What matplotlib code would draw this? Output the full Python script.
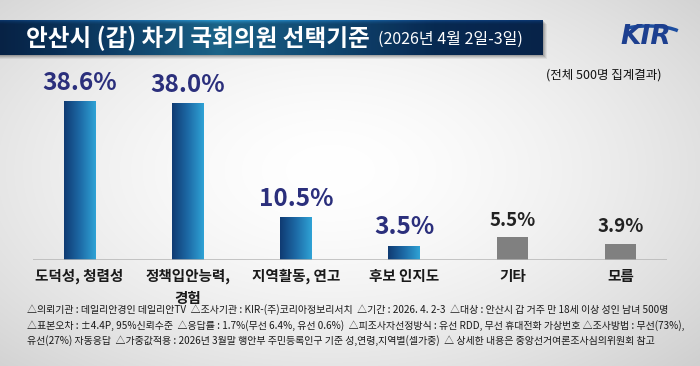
import numpy as np
import matplotlib
matplotlib.use('Agg')
import matplotlib.pyplot as plt
from matplotlib.colors import LinearSegmentedColormap
from matplotlib.patches import Rectangle, Arc

plt.rcParams['font.family'] = ['Noto Sans CJK KR', 'DejaVu Sans']

# data
categories = ['도덕성, 청렴성', '정책입안능력,\n경험', '지역활동, 연고', '후보 인지도', '기타', '모름']
values = [38.6, 38.0, 10.5, 3.5, 5.5, 3.9]
highlight = [True, True, True, True, False, False]

title = '안산시 (갑) 차기 국회의원 선택기준'
subtitle = '(2026년 4월 2일-3일)'
sample_note = '(전체 500명 집계결과)'
footer_lines = [
    '△의뢰기관 : 데일리안경인 데일리안TV  △조사기관 : KIR-(주)코리아정보리서치  △기간 : 2026. 4. 2-3  △대상 : 안산시 갑 거주 만 18세 이상 성인 남녀 500명',
    '△표본오차 : ±4.4P, 95%신뢰수준  △응답률 : 1.7%(무선 6.4%, 유선 0.6%)  △피조사자선정방식 : 유선 RDD, 무선 휴대전화 가상번호 △조사방법 : 무선(73%),',
    '유선(27%) 자동응답  △가중값적용 : 2026년 3월말 행안부 주민등록인구 기준 성,연령,지역별(셀가중)  △ 상세한 내용은 중앙선거여론조사심의위원회 참고',
]

W, H = 700, 366
fig = plt.figure(figsize=(W / 100, H / 100), dpi=100)


def fx(x):
    return x / W


def fy(y):
    return 1 - y / H


# background: soft radial gradient, white in the middle, gray at edges
bg = fig.add_axes([0, 0, 1, 1])
yy, xx = np.mgrid[0:H, 0:W]
d = np.sqrt(((xx - 330) / 520) ** 2 + ((yy - 170) / 300) ** 2)
d = np.clip(d, 0, 1)
shade = 1.0 - 0.20 * d ** 1.6
bg.imshow(np.dstack([shade, shade, shade]), extent=[0, W, H, 0], aspect='auto')
bg.set_xlim(0, W)
bg.set_ylim(H, 0)
bg.axis('off')

# title banner with shadow
for i, a in enumerate([0.06, 0.08, 0.10, 0.12]):
    off = 4 - i
    bg.add_patch(Rectangle((0, 20 + off), 543 + off, 35, color='black', alpha=a, lw=0))
banner_cmap = LinearSegmentedColormap.from_list(
    'banner', ['#0b3467', '#155a95', '#2a93c8', '#1a6aa6', '#0e3f7a', '#0b356d'])
grad = np.linspace(0, 1, 256).reshape(1, -1)
bg.imshow(grad, cmap=banner_cmap, extent=[0, 543, 55, 20], aspect='auto')
bg.set_xlim(0, W)
bg.set_ylim(H, 0)

fig.text(fx(26), fy(38), title, color='white', fontsize=17, fontweight='bold', va='center', ha='left')
fig.text(fx(378), fy(39), subtitle, color='white', fontsize=11.5, fontweight='medium', va='center', ha='left')

# KIR logo
bg.add_patch(Arc((648, 36), 70, 20, theta1=200, theta2=350, color='#1d4ea0', lw=2.5))
fig.text(fx(646), fy(37), 'KIR', family='DejaVu Sans', fontsize=19, fontweight='heavy',
         fontstyle='italic', color='#1d3f8f', ha='center', va='center')

fig.text(fx(662), fy(75), sample_note, fontsize=9, fontweight='medium', color='#111111',
         ha='right', va='center')

# main chart
left, right = 33, 667
base_y, top_y = 260, 60
ppu = 4.12
ax = fig.add_axes([fx(left), fy(base_y), (right - left) / W, (base_y - top_y) / H])
ax.patch.set_alpha(0)
x = np.arange(len(values))
bar_w = 0.29
bars = ax.bar(x, values, width=bar_w, color='#808080', zorder=2)

bar_cmap = LinearSegmentedColormap.from_list('bar', ['#0f3a72', '#1d6aa6', '#2fa3d6'])
for b, hl in zip(bars, highlight):
    if hl:
        b.set_facecolor('none')
        x0 = b.get_x()
        im = ax.imshow(grad, cmap=bar_cmap, extent=[x0, x0 + b.get_width(), 0, b.get_height()],
                       aspect='auto', zorder=2)
        im.set_clip_path(b)

for xi, v, hl in zip(x, values, highlight):
    if hl:
        ax.text(xi, v + 1.5, f'{v:.1f}%', ha='center', va='bottom', fontsize=17.5,
                fontweight='bold', color='#2b2f7c')
    else:
        ax.text(xi, v + 1.9, f'{v:.1f}%', ha='center', va='bottom', fontsize=13.5,
                fontweight='bold', color='#222222')

ax.set_xlim(-0.43, len(values) - 1 + 0.43)
ax.set_ylim(0, (base_y - top_y) / ppu)
ax.axhline(0, color='#b5b5b5', lw=1.8, zorder=3)
for s in ax.spines.values():
    s.set_visible(False)
ax.set_yticks([])
ax.set_xticks(x)
ax.set_xticklabels(categories, fontsize=10.5, fontweight='bold', color='#1a1a1a', linespacing=1.4)
ax.tick_params(axis='x', length=0, pad=6)

# footer: shrink the font so the first line spans about 645 px
renderer = fig.canvas.get_renderer()
fs = 7.6
probe = fig.text(0, 0, footer_lines[0], fontsize=fs, fontweight='medium')
wpx = probe.get_window_extent(renderer).width
probe.remove()
fs = fs * 645 / wpx
for i, line in enumerate(footer_lines):
    fig.text(fx(27), fy(310 + 15.5 * i), line, fontsize=fs, fontweight='medium',
             color='#1a1a1a', ha='left', va='center')

fig.savefig('out.png', dpi=100)
